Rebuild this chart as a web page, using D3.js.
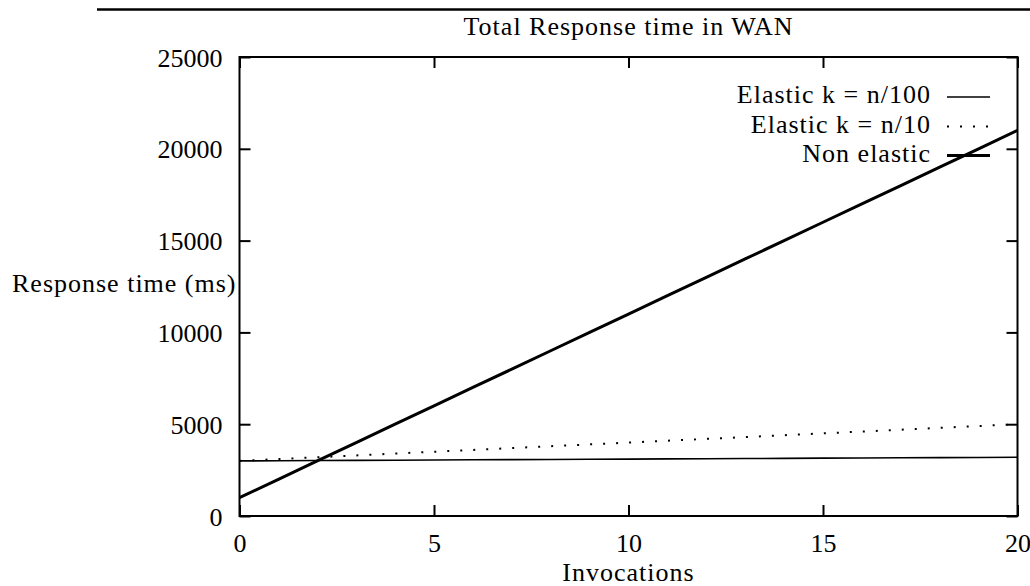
<!DOCTYPE html>
<html>
<head>
<meta charset="utf-8">
<script src="https://cdn.jsdelivr.net/npm/d3@7"></script>
<style>
  body { margin: 0; background: #fff; }
  svg text { font-family: "Liberation Serif", "Times New Roman", serif; font-size: 26px; fill: #000; }
</style>
</head>
<body>
<div id="chart"></div>
<script>
// Data
const invocations = [0, 1, 2, 3, 4, 5, 6, 7, 8, 9, 10, 11, 12, 13, 14, 15, 16, 17, 18, 19, 20];
const elastic100 = [3000, 3010, 3020, 3030, 3040, 3050, 3060, 3070, 3080, 3090, 3100,
                    3110, 3120, 3130, 3140, 3150, 3160, 3170, 3180, 3190, 3200];
const elastic10 = [3000, 3100, 3200, 3300, 3400, 3500, 3600, 3700, 3800, 3900, 4000,
                   4100, 4200, 4300, 4400, 4500, 4600, 4700, 4800, 4900, 5000];
const nonElastic = [1000, 2000, 3000, 4000, 5000, 6000, 7000, 8000, 9000, 10000, 11000,
                    12000, 13000, 14000, 15000, 16000, 17000, 18000, 19000, 20000, 21000];
const xTicks = [0, 5, 10, 15, 20];
const yTicks = [0, 5000, 10000, 15000, 20000, 25000];

const series = [
    { name: 'Elastic k = n/100', values: elastic100, width: 1.6, dash: null },
    { name: 'Elastic k = n/10', values: elastic10, width: 2, dash: '2,11' },
    { name: 'Non elastic', values: nonElastic, width: 3, dash: null }
];

// Layout
const W = 1030, H = 586;
const plot = { left: 239.5, right: 1017.5, top: 57, bottom: 516 };

const svg = d3.select('#chart').append('svg')
    .attr('width', W)
    .attr('height', H);

const x = d3.scaleLinear().domain([0, 20]).range([plot.left, plot.right]);
const y = d3.scaleLinear().domain([0, 25000]).range([plot.bottom, plot.top]);

// Top rule
svg.append('line')
    .attr('x1', 97).attr('x2', W)
    .attr('y1', 9.5).attr('y2', 9.5)
    .attr('stroke', '#000').attr('stroke-width', 2.6);

// Title
svg.append('text')
    .attr('x', (plot.left + plot.right) / 2)
    .attr('y', 35)
    .attr('text-anchor', 'middle')
    .style('letter-spacing', '1px')
    .text('Total Response time in WAN');

// Axes with inward ticks
function styleAxis(g) {
    g.select('.domain').remove();
    g.selectAll('.tick line').attr('stroke', '#000').attr('stroke-width', 2);
}

svg.append('g')
    .attr('transform', `translate(0,${plot.bottom})`)
    .call(d3.axisBottom(x).tickValues(xTicks).tickSizeInner(-11).tickSizeOuter(0)
        .tickPadding(26).tickFormat(d3.format('d')))
    .call(styleAxis)
    .call(g => g.selectAll('.tick text').attr('dy', 10));

svg.append('g')
    .attr('transform', `translate(0,${plot.top})`)
    .call(d3.axisTop(x).tickValues(xTicks).tickSizeInner(-11).tickSizeOuter(0).tickFormat(''))
    .call(styleAxis);

svg.append('g')
    .attr('transform', `translate(${plot.left},0)`)
    .call(d3.axisLeft(y).tickValues(yTicks).tickSizeInner(-11).tickSizeOuter(0)
        .tickPadding(17).tickFormat(d3.format('d')))
    .call(styleAxis)
    .call(g => g.selectAll('.tick text').attr('dy', 9));

svg.append('g')
    .attr('transform', `translate(${plot.right},0)`)
    .call(d3.axisRight(y).tickValues(yTicks).tickSizeInner(-11).tickSizeOuter(0).tickFormat(''))
    .call(styleAxis);

// Frame
svg.append('rect')
    .attr('x', plot.left).attr('y', plot.top)
    .attr('width', plot.right - plot.left)
    .attr('height', plot.bottom - plot.top)
    .attr('fill', 'none')
    .attr('stroke', '#000')
    .attr('stroke-width', 2);

// Axis labels
svg.append('text')
    .attr('x', 12)
    .attr('y', 292)
    .style('letter-spacing', '1px')
    .text('Response time (ms)');

svg.append('text')
    .attr('x', (plot.left + plot.right) / 2)
    .attr('y', 581)
    .attr('text-anchor', 'middle')
    .style('letter-spacing', '1px')
    .text('Invocations');

// Lines
const line = d3.line()
    .x((d, i) => x(invocations[i]))
    .y(d => y(d));

series.forEach(s => {
    svg.append('path')
        .datum(s.values)
        .attr('d', line)
        .attr('fill', 'none')
        .attr('stroke', '#000')
        .attr('stroke-width', s.width)
        .attr('stroke-dasharray', s.dash);
});

// Legend
const legendRowY = [97, 126.5, 155.5];
series.forEach((s, i) => {
    svg.append('text')
        .attr('x', 931)
        .attr('y', legendRowY[i] + 6)
        .attr('text-anchor', 'end')
        .style('letter-spacing', '1px')
        .text(s.name);
    svg.append('line')
        .attr('x1', 947).attr('x2', 990)
        .attr('y1', legendRowY[i]).attr('y2', legendRowY[i])
        .attr('stroke', '#000')
        .attr('stroke-width', s.width)
        .attr('stroke-dasharray', s.dash);
});
</script>
</body>
</html>
